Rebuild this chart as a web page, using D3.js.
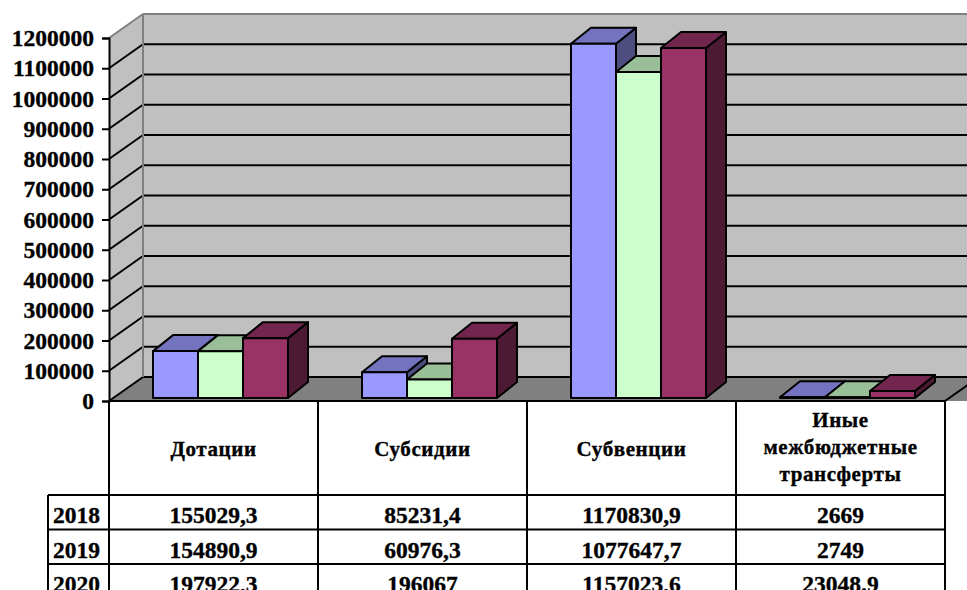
<!DOCTYPE html>
<html>
<head>
<meta charset="utf-8">
<title>Межбюджетные трансферты</title>
<script src="https://d3js.org/d3.v7.min.js"></script>
<style>
  body { margin: 0; background: #fff; }
  svg text { font-family: "Liberation Serif", "Times New Roman", Times, "DejaVu Serif", serif !important; font-weight: bold; fill: #000; stroke: #000; stroke-width: 0.35px; }
</style>
</head>
<body>
<script>
var categories = ["Дотации", "Субсидии", "Субвенции", "Иные межбюджетные трансферты"];
var categoryLines = [["Дотации"], ["Субсидии"], ["Субвенции"], ["Иные", "межбюджетные", "трансферты"]];
var years = ["2018", "2019", "2020"];
var values2018 = [155029.3, 85231.4, 1170830.9, 2669];
var values2019 = [154890.9, 60976.3, 1077647.7, 2749];
var values2020 = [197922.3, 196067, 1157023.6, 23048.9];
var labels2018 = ["155029,3", "85231,4", "1170830,9", "2669"];
var labels2019 = ["154890,9", "60976,3", "1077647,7", "2749"];
var labels2020 = ["197922,3", "196067", "1157023,6", "23048.9"];
var tickValues = [0, 100000, 200000, 300000, 400000, 500000, 600000, 700000, 800000, 900000, 1000000, 1100000, 1200000];

var series = [values2018, values2019, values2020];
var tableLabels = [labels2018, labels2019, labels2020];
var colors = [
  { front: "#9999ff", top: "#7373bf", side: "#4d4d80" },
  { front: "#ccffcc", top: "#99bf99", side: "#668066" },
  { front: "#993366", top: "#73264d", side: "#4d1a33" }
];

var width = 967, height = 590;
var left = 109, right = 945, floorY = 401;
var wallDx = 34, wallDy = -24;
var barDx = 20, barDy = -16;
var serif = "'Liberation Serif', 'Times New Roman', serif";

var svg = d3.select("body").append("svg").attr("width", width).attr("height", height);

var y = d3.scaleLinear().domain([0, 1200000]).range([floorY, 38]);
var yBar = d3.scaleLinear().domain([0, 1200000]).range([398, 35]);
var x = d3.scaleBand().domain(categories).range([left, right]);
var xInner = d3.scaleBand().domain(years).range([44, 179]);

// back wall
svg.append("rect")
  .attr("x", left + wallDx).attr("y", y(1200000) + wallDy)
  .attr("width", width).attr("height", y(0) - y(1200000))
  .attr("fill", "#c0c0c0");
// side wall
svg.append("polygon")
  .attr("points", [[left, y(1200000)], [left + wallDx, y(1200000) + wallDy], [left + wallDx, y(0) + wallDy], [left, y(0)]].join(" "))
  .attr("fill", "#c0c0c0");
// floor
svg.append("polygon")
  .attr("points", [[left, floorY], [left + wallDx, floorY + wallDy], [right + wallDx + 40, floorY + wallDy], [right + 40, floorY + wallDy + 24], [right, floorY]].join(" "))
  .attr("fill", "#808080");

// gridlines
var grid = svg.append("g");
tickValues.forEach(function(t) {
  var c = t === 1200000 ? "#808080" : "#000";
  grid.append("line")
    .attr("x1", left + wallDx).attr("x2", width)
    .attr("y1", y(t) + wallDy).attr("y2", y(t) + wallDy)
    .attr("stroke", c).attr("stroke-width", 2);
  grid.append("line")
    .attr("x1", left).attr("x2", left + wallDx)
    .attr("y1", y(t)).attr("y2", y(t) + wallDy)
    .attr("stroke", c).attr("stroke-width", 2);
});
grid.append("line")
  .attr("x1", left + wallDx).attr("x2", left + wallDx)
  .attr("y1", y(1200000) + wallDy).attr("y2", y(0) + wallDy)
  .attr("stroke", "#808080").attr("stroke-width", 2);
grid.append("line")
  .attr("x1", right).attr("x2", right + wallDx)
  .attr("y1", floorY).attr("y2", floorY + wallDy)
  .attr("stroke", "#000").attr("stroke-width", 2);

// bars
var bars = svg.append("g");
categories.forEach(function(cat, ci) {
  series.forEach(function(vals, si) {
    var x0 = x(cat) + xInner(years[si]);
    var w = xInner.bandwidth();
    var y0 = yBar(0), y1 = yBar(vals[ci]);
    var col = colors[si];
    var g = bars.append("g").attr("stroke", "#000").attr("stroke-width", 2).attr("stroke-linejoin", "round");
    g.append("polygon")
      .attr("points", [[x0 + w, y1], [x0 + w + barDx, y1 + barDy], [x0 + w + barDx, y0 + barDy], [x0 + w, y0]].join(" "))
      .attr("fill", col.side);
    g.append("polygon")
      .attr("points", [[x0, y1], [x0 + barDx, y1 + barDy], [x0 + w + barDx, y1 + barDy], [x0 + w, y1]].join(" "))
      .attr("fill", col.top);
    g.append("rect")
      .attr("x", x0).attr("y", y1).attr("width", w).attr("height", y0 - y1)
      .attr("fill", col.front);
  });
});

// y axis
var axis = svg.append("g").attr("transform", "translate(" + left + ",0)")
  .call(d3.axisLeft(y).tickValues(tickValues).tickSize(7).tickPadding(8).tickFormat(d3.format("d")));
axis.attr("font-family", serif);
axis.select(".domain").attr("stroke", "#000").attr("stroke-width", 2);
axis.selectAll(".tick line").attr("stroke", "#000").attr("stroke-width", 2);
axis.selectAll(".tick text")
  .attr("font-family", serif)
  .attr("font-weight", "bold").attr("font-size", 23.5).attr("fill", "#000");

// data table
var table = svg.append("g").attr("font-family", serif).attr("font-weight", "bold");
var rowTop = 495, rowH = 34.5;
table.append("line").attr("x1", left).attr("x2", right).attr("y1", floorY).attr("y2", floorY)
  .attr("stroke", "#000").attr("stroke-width", 2);
x.domain().concat(["end"]).forEach(function(cat) {
  var xx = cat === "end" ? right : x(cat);
  table.append("line").attr("x1", xx).attr("x2", xx).attr("y1", floorY).attr("y2", height)
    .attr("stroke", "#000").attr("stroke-width", 2);
});
table.append("line").attr("x1", 48).attr("x2", 48).attr("y1", rowTop).attr("y2", height)
  .attr("stroke", "#000").attr("stroke-width", 2);
years.forEach(function(yr, i) {
  table.append("line").attr("x1", 48).attr("x2", right).attr("y1", rowTop + i * rowH).attr("y2", rowTop + i * rowH)
    .attr("stroke", "#000").attr("stroke-width", 2);
  table.append("text").attr("x", 53).attr("y", rowTop + i * rowH + 28)
    .attr("font-size", 23.5).text(yr);
  categories.forEach(function(cat, ci) {
    table.append("text").attr("x", x(cat) + x.bandwidth() / 2).attr("y", rowTop + i * rowH + 28)
      .attr("text-anchor", "middle").attr("font-size", 23.5).text(tableLabels[i][ci]);
  });
});
categories.forEach(function(cat, ci) {
  var lines = categoryLines[ci];
  var base = lines.length === 1 ? 456 : 427;
  lines.forEach(function(l, li) {
    table.append("text").attr("x", x(cat) + x.bandwidth() / 2).attr("y", base + li * 27)
      .attr("text-anchor", "middle").attr("font-size", 21).attr("letter-spacing", 0.6).text(l);
  });
});
</script>
</body>
</html>
